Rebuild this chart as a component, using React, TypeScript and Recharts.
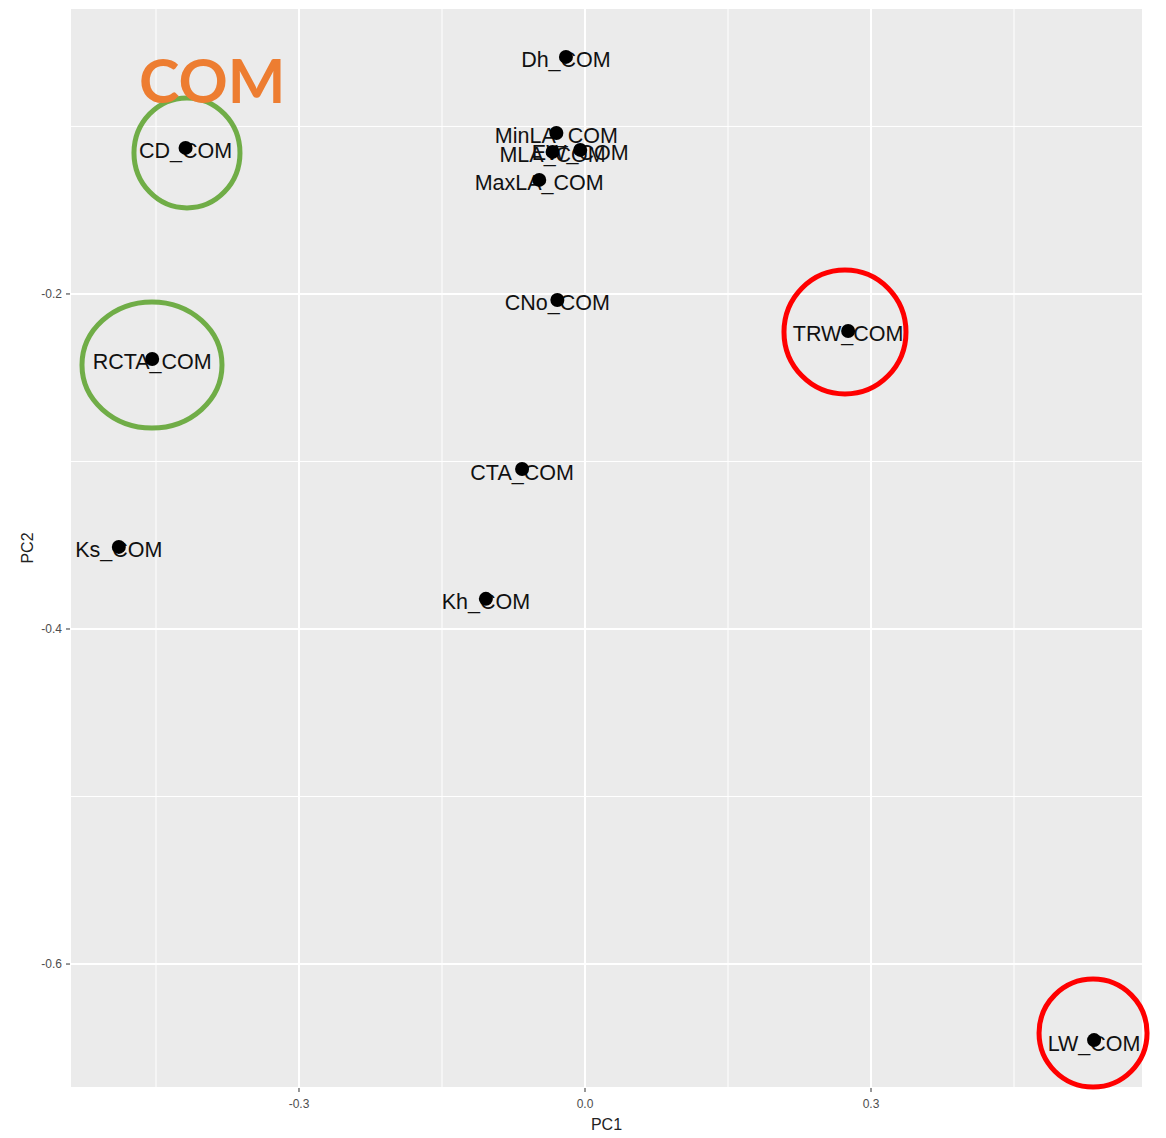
import { CartesianGrid, Label, ReferenceDot, ReferenceLine, Scatter, ScatterChart, XAxis, YAxis } from 'recharts'

// PCA loadings
const traitNames = ['Dh_COM', 'MinLA_COM', 'MLA_COM', 'EW_COM', 'MaxLA_COM', 'CD_COM', 'CNo_COM', 'TRW_COM', 'RCTA_COM', 'CTA_COM', 'Ks_COM', 'Kh_COM', 'LW_COM']
const pc1Values = [-0.02, -0.03, -0.034, -0.005, -0.048, -0.419, -0.029, 0.276, -0.454, -0.066, -0.489, -0.104, 0.534]
const pc2Values = [-0.0585, -0.1039, -0.1152, -0.114, -0.1319, -0.1128, -0.2036, -0.2221, -0.2388, -0.3045, -0.351, -0.382, -0.6454]

const xTicks = [-0.3, 0, 0.3]
const yTicks = [-0.6, -0.4, -0.2]
const xMinorGrid = [-0.45, -0.15, 0.15, 0.45]
const yMinorGrid = [-0.5, -0.3, -0.1]

// highlight rings drawn over the plot
const ringNames = ['CD_COM', 'RCTA_COM', 'TRW_COM', 'LW_COM']
const ringX = [-0.4175, -0.4542, 0.2727, 0.5329]
const ringY = [-0.1158, -0.2424, -0.2227, -0.6412]
const ringColors = ['#70AD47', '#70AD47', '#FF0000', '#FF0000']

const data = traitNames.map((name, i) => ({ name, pc1: pc1Values[i], pc2: pc2Values[i] }))
const ringRadius: Record<string, [number, number]> = {
    CD_COM: [53, 55],
    RCTA_COM: [70, 63],
    TRW_COM: [61, 62],
    LW_COM: [54, 54],
}

const renderLabel = (props: any) => (
    <text x={props.cx} y={props.cy + 3.5} textAnchor="middle" dominantBaseline="central" fontSize={21.5} fill="#111">
        {props.payload.name}
    </text>
)

const renderDot = (props: any) => <circle cx={props.cx} cy={props.cy} r={7} fill="#000" />

const App = () => {
    return (
        <div style={{ fontFamily: '"Liberation Sans", Arial, sans-serif' }}>
            <ScatterChart width={1158} height={1130} margin={{ top: 0, right: 23, bottom: 0, left: 0 }}>
                <CartesianGrid fill="#EBEBEB" stroke="#FFFFFF" strokeWidth={2} />
                {xMinorGrid.map((v) => (
                    <ReferenceLine key={'x' + v} x={v} stroke="#FFFFFF" strokeWidth={1} />
                ))}
                {yMinorGrid.map((v) => (
                    <ReferenceLine key={'y' + v} y={v} stroke="#FFFFFF" strokeWidth={1} />
                ))}
                <XAxis
                    type="number"
                    dataKey="pc1"
                    domain={[-0.5402, 0.5853]}
                    ticks={xTicks}
                    tickFormatter={(v: number) => v.toFixed(1)}
                    axisLine={false}
                    tickLine={{ stroke: '#333333' }}
                    tickSize={4}
                    tickMargin={7}
                    tick={{ fill: '#4D4D4D', fontSize: 12 }}
                    height={50}
                    allowDataOverflow
                >
                    <Label
                        content={({ viewBox }: any) => (
                            <text x={viewBox.x + viewBox.width / 2} y={viewBox.y + 36} textAnchor="middle" dominantBaseline="central" fontSize={16} fill="#222">
                                PC1
                            </text>
                        )}
                    />
                </XAxis>
                <YAxis
                    type="number"
                    dataKey="pc2"
                    domain={[-0.674, -0.0293]}
                    ticks={yTicks}
                    tickFormatter={(v: number) => v.toFixed(1)}
                    axisLine={false}
                    tickLine={{ stroke: '#333333' }}
                    tickSize={4}
                    tickMargin={4}
                    tick={{ fill: '#4D4D4D', fontSize: 12 }}
                    width={62}
                    allowDataOverflow
                >
                    <Label
                        content={({ viewBox }: any) => {
                            const cx = viewBox.x + 19
                            const cy = viewBox.y + viewBox.height / 2
                            return (
                                <text x={cx} y={cy} textAnchor="middle" dominantBaseline="central" fontSize={16} fill="#222" transform={`rotate(-90 ${cx} ${cy})`}>
                                    PC2
                                </text>
                            )
                        }}
                    />
                </YAxis>
                <Scatter data={data} shape={renderLabel} isAnimationActive={false} />
                <Scatter data={data} shape={renderDot} isAnimationActive={false} />
                {ringNames.map((name, i) => (
                    <ReferenceDot
                        key={name}
                        x={ringX[i]}
                        y={ringY[i]}
                        ifOverflow="visible"
                        shape={(p: any) => (
                            <ellipse cx={p.cx} cy={p.cy} rx={ringRadius[name][0]} ry={ringRadius[name][1]} fill="none" stroke={ringColors[i]} strokeWidth={5} />
                        )}
                    />
                ))}
                <ReferenceDot
                    x={-0.391}
                    y={-0.0716}
                    ifOverflow="visible"
                    shape={(p: any) => (
                        <text x={p.cx} y={p.cy + 1} textAnchor="middle" dominantBaseline="central" fontSize={61} fontWeight={700} fontFamily="Lato, sans-serif" fill="#ED7D31">
                            COM
                        </text>
                    )}
                />
            </ScatterChart>
        </div>
    )
}

export default App
